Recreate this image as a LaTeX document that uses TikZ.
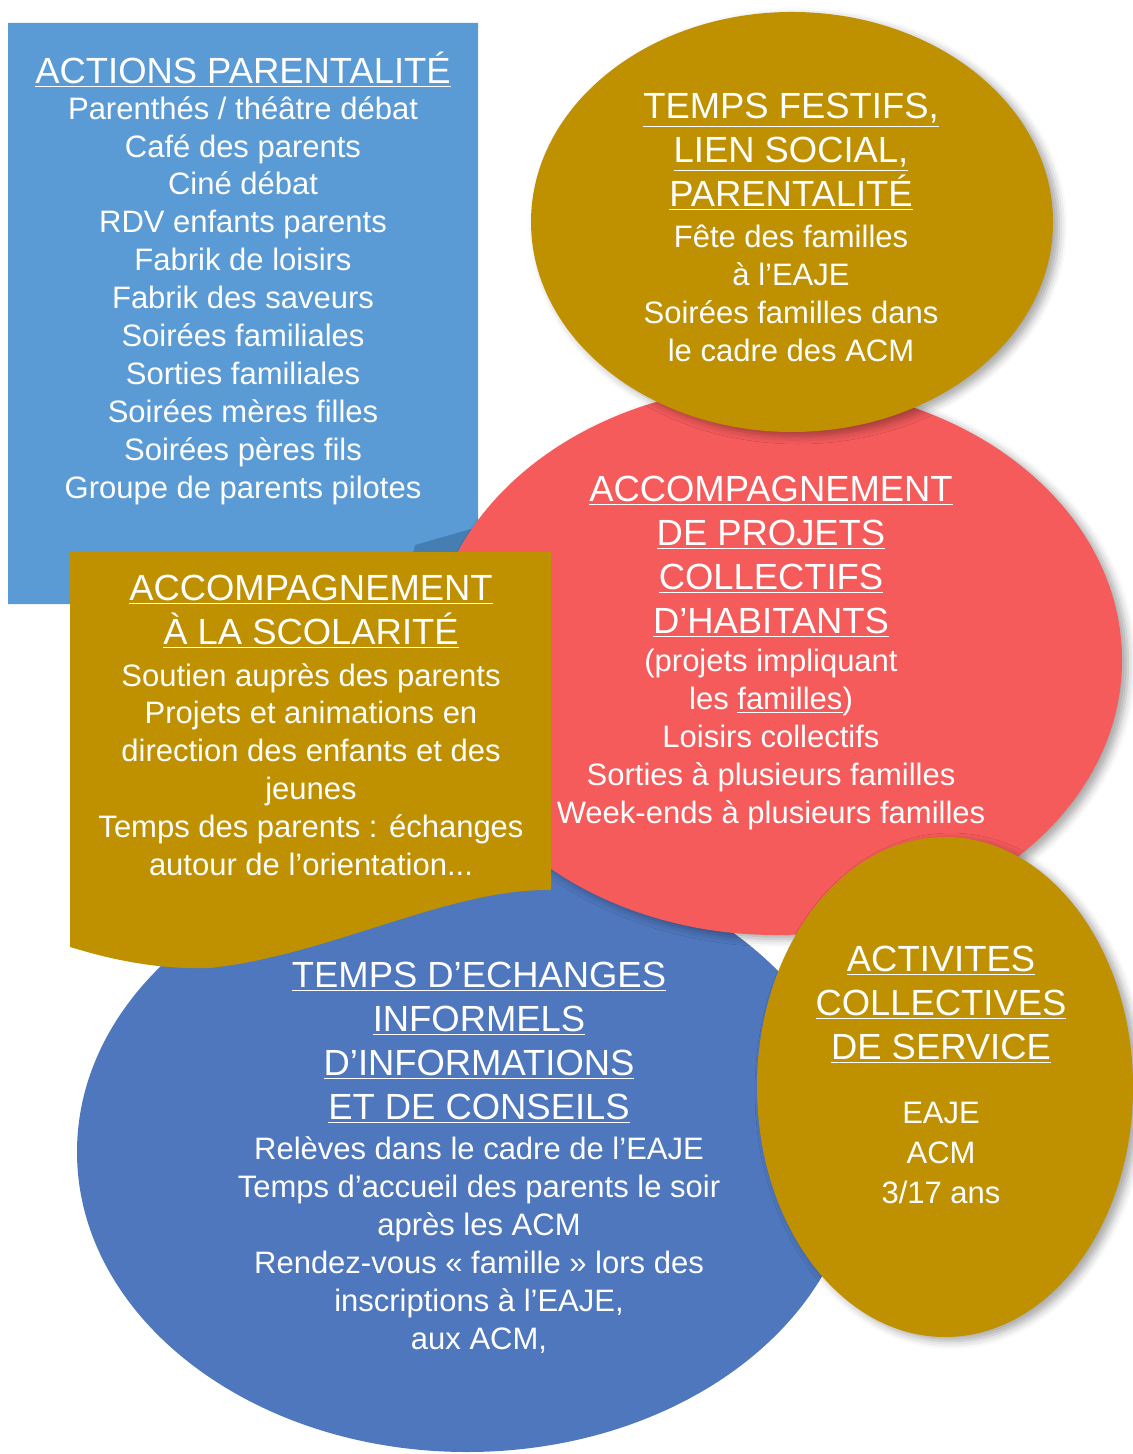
\documentclass[tikz,border=0pt]{standalone}
\usepackage{fontspec}
\setmainfont{Liberation Sans}
\usetikzlibrary{shadows.blur}

\definecolor{skyblue}{HTML}{5B9BD5}
\definecolor{foldblue}{HTML}{457EB2}
\definecolor{ochre}{HTML}{BF9000}
\definecolor{coral}{HTML}{F55B5B}
\definecolor{royal}{HTML}{4F77BE}
\newcommand{\uln}[1]{\underline{#1}}

\begin{document}
\begin{tikzpicture}[x=0.5pt, y=-0.5pt,
  title/.style = {text=white, align=center, inner sep=0pt, font=\fontsize{18.2}{22}\selectfont},
  body/.style = {text=white, align=center, inner sep=0pt, font=\fontsize{15.5}{18.95}\selectfont},
  shade/.style = {blur shadow={shadow xshift=3pt, shadow yshift=-2pt, shadow blur radius=4pt, shadow opacity=35}}]
\useasboundingbox (0,0) rectangle (1133,1454);
% shapes, back to front
\fill[skyblue] (8,23) -- (478,23) -- (478,527) -- (400,604) -- (8,604) -- cycle;
\fill[foldblue] (478,527) -- (415,545) -- (410,565) -- (470,565) -- cycle;
\fill[royal] (467,1152) ellipse [x radius=390, y radius=300];
\fill[coral, shade] (776,660) ellipse [x radius=346, y radius=275];
\fill[ochre, shade] (792,222) ellipse [x radius=261, y radius=210];
\fill[ochre] (70,552) -- (551,552) -- (551,890)
  .. controls (450,888) and (330,955) .. (210,968)
  .. controls (150,970) and (100,956) .. (70,947) -- cycle;
\fill[ochre, shade] (945,1087) ellipse [x radius=188, y radius=250];
% texts
\node[title] (parentT) at (243,70) {\uln{ACTIONS PARENTALITÉ}};
\node[body] (parentB) at (243,300.5) {Parenthés / théâtre débat\\ Café des parents\\ Ciné débat\\
  RDV enfants parents\\ Fabrik de loisirs\\ Fabrik des saveurs\\ Soirées familiales\\
  Sorties familiales\\ Soirées mères filles\\ Soirées pères fils\\ Groupe de parents pilotes};
\node[title] (festT) at (791,152) {\uln{TEMPS FESTIFS,}\\ \uln{LIEN SOCIAL,}\\ \uln{PARENTALITÉ}};
\node[body] (festB) at (791,293.5) {Fête des familles\\ à l’EAJE\\ Soirées familles dans\\ le cadre des ACM};
\node[title] (projT) at (771,557) {\uln{ACCOMPAGNEMENT}\\ \uln{DE PROJETS}\\ \uln{COLLECTIFS}\\ \uln{D’HABITANTS}};
\node[body] (projB) at (771,739.5) {(projets impliquant\\ les \uln{familles})\\ Loisirs collectifs\\
  Sorties à plusieurs familles\\ Week-ends à plusieurs familles};
\node[title] (scolT) at (311,612) {\uln{ACCOMPAGNEMENT}\\ \uln{À LA SCOLARITÉ}};
\node[body] (scolB) at (311,769.5) {Soutien auprès des parents\\ Projets et animations en\\
  direction des enfants et des\\ jeunes\\ Temps des parents : échanges\\ autour de l'orientation...};
\node[title] (echT) at (479,1043) {\uln{TEMPS D’ECHANGES}\\ \uln{INFORMELS}\\ \uln{D’INFORMATIONS}\\ \uln{ET DE CONSEILS}};
\node[body] (echB) at (479,1245) {Relèves dans le cadre de l’EAJE\\ Temps d’accueil des parents le soir\\
  après les ACM\\ Rendez-vous « famille » lors des\\ inscriptions à l’EAJE,\\ aux ACM,};
\node[title] (servT) at (941,1004.5) {\uln{ACTIVITES}\\ \uln{COLLECTIVES}\\ \uln{DE SERVICE}};
\node[body, font=\fontsize{15.5}{20}\selectfont] (servB) at (941,1153) {EAJE\\ ACM\\ 3/17 ans};
\end{tikzpicture}
\end{document}
